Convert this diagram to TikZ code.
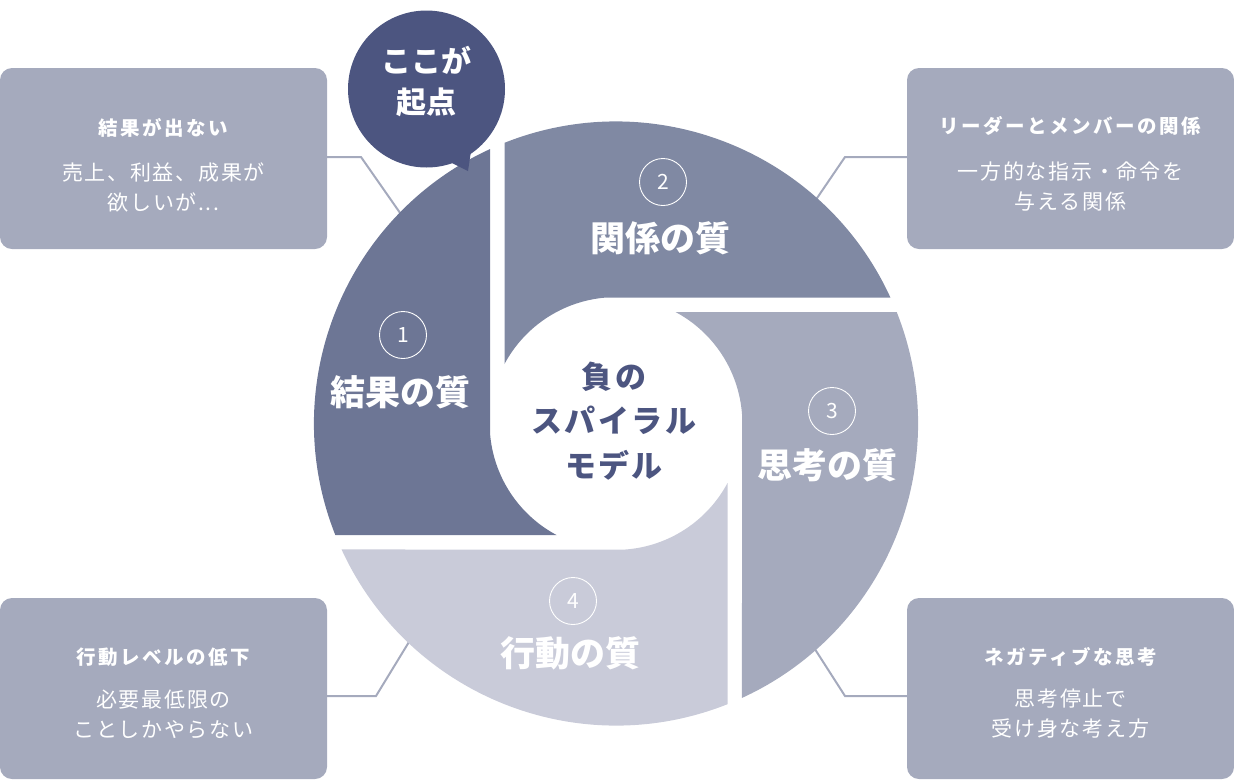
\documentclass[tikz,border=0pt]{standalone}
\usepackage{fontspec}
\newfontfamily\jp{Noto Sans CJK JP}
\newfontfamily\jpls[LetterSpace=8]{Noto Sans CJK JP}
\newfontfamily\jplt[LetterSpace=13]{Noto Sans CJK JP}
\newfontfamily\jpc[LetterSpace=8]{Noto Sans CJK JP}
\definecolor{bA}{HTML}{6D7695}
\definecolor{bB}{HTML}{8089A3}
\definecolor{bC}{HTML}{A5AABD}
\definecolor{bD}{HTML}{C9CBD9}
\definecolor{navy}{HTML}{4C5580}
\definecolor{boxc}{HTML}{A5AABD}
\tikzset{
  sidebox/.style={rectangle, rounded corners=12pt, fill=boxc, minimum width=327pt, minimum height=181pt, inner sep=0pt},
  boxtitle/.style={text=white, font=\jplt\bfseries\fontsize{19.5}{19.5}\selectfont, inner sep=0pt},
  boxbody/.style={text=white, align=center, font=\jpls\fontsize{21}{30}\selectfont, inner sep=0pt},
  conn/.style={draw=boxc, line width=2pt},
  numc/.style={circle, draw=white, line width=0.9pt, minimum size=47pt, inner sep=0pt, text=white, font=\jp\fontsize{21}{21}\selectfont},
  qtitle/.style={text=white, font=\jp\bfseries\fontsize{35}{35}\selectfont, inner sep=0pt},
}
\begin{document}
\begin{tikzpicture}[x=1pt,y=-1pt]
\useasboundingbox (0,0) rectangle (1234,780);

% side boxes
\node[sidebox] (b1) at (163.5,158.5) {};
\node[sidebox] (b2) at (1070.5,158.5) {};
\node[sidebox] (b3) at (1070.5,688.5) {};
\node[sidebox] (b4) at (163.5,688.5) {};

\node[boxtitle] (t1) at (163.5,128) {結果が出ない};
\node[boxbody] (d1) at (163.5,187) {売上、利益、成果が\\欲しいが...};
\node[boxtitle] (t2) at (1070.5,126) {リーダーとメンバーの関係};
\node[boxbody] (d2) at (1070.5,186) {一方的な指示・命令を\\与える関係};
\node[boxtitle] (t3) at (1070.5,657) {ネガティブな思考};
\node[boxbody] (d3) at (1070.5,714) {思考停止で\\受け身な考え方};
\node[boxtitle] (t4) at (163.5,657) {行動レベルの低下};
\node[boxbody] (d4) at (163.5,714) {必要最低限の\\ことしかやらない};

% connector coordinates
\coordinate (k1a) at (361,157);
\coordinate (k1b) at (405,220);
\coordinate (k2a) at (845,157);
\coordinate (k2b) at (813,204);
\coordinate (k3a) at (845,696);
\coordinate (k3b) at (811,643);
\coordinate (k4a) at (376,696);
\coordinate (k4b) at (412,637);
\draw[conn] (b1.east |- k1a) -- (k1a) -- (k1b);
\draw[conn] (b2.west |- k2a) -- (k2a) -- (k2b);
\draw[conn] (b3.west |- k3a) -- (k3a) -- (k3b);
\draw[conn] (b4.east |- k4a) -- (k4a) -- (k4b);

% blades
\begin{scope}[shift={(616,423.5)}, x=1pt, y=1pt]
\def\blade{(-59.5,-111.5) -- (-280.7,-111.5) arc[start angle=201.66, end angle=114.65, radius=302] -- (-126,-9.5) arc[start angle=184.31, end angle=241.9, radius=126.4] -- cycle}
\fill[bA] \blade;
\begin{scope}[rotate=-90]\fill[bB] \blade;\end{scope}
\begin{scope}[rotate=-180]\fill[bC] \blade;\end{scope}
\begin{scope}[rotate=-270]\fill[bD] \blade;\end{scope}
\end{scope}

% blade labels
\node[numc] (n1) at (403,335) {1};
\node[qtitle] (q1) at (400,392) {結果の質};
\node[numc] (n2) at (663,182) {2};
\node[qtitle] (q2) at (660,238) {関係の質};
\node[numc] (n3) at (832,411) {3};
\node[qtitle] (q3) at (827,465) {思考の質};
\node[numc] (n4) at (573,601) {4};
\node[qtitle] (q4) at (570,653) {行動の質};

% center
\node[text=navy, align=center, inner sep=0pt, font=\jpc\bfseries\fontsize{31}{44.5}\selectfont] (center) at (614,421) {負の\\スパイラル\\モデル};

% bubble
\fill[navy] (442,158) -- (468,171) -- (473,138) -- cycle;
\node[circle, fill=navy, minimum size=157pt, inner sep=0pt] (bub) at (426.5,89) {};
\node[text=white, align=center, inner sep=0pt, font=\jp\bfseries\fontsize{30}{41}\selectfont] (bubt) at (426.5,82) {ここが\\起点};
\end{tikzpicture}
\end{document}
